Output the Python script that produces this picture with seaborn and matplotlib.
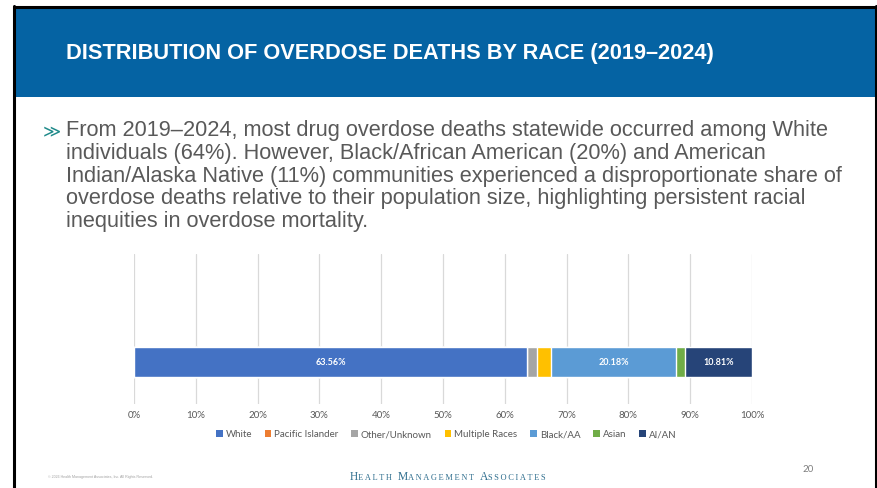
import matplotlib
matplotlib.use("Agg")
import matplotlib.pyplot as plt
import matplotlib.patches as mpatches
from matplotlib.lines import Line2D
import seaborn as sns
import numpy as np
import pandas as pd

# chart values
races = ["White", "Pacific Islander", "Other/Unknown", "Multiple Races",
         "Black/AA", "Asian", "AI/AN"]
shares = [63.56, 0.10, 1.60, 2.25, 20.18, 1.50, 10.81]
colors = ["#4472C4", "#ED7D31", "#A5A5A5", "#FFC000",
          "#5B9BD5", "#70AD47", "#264478"]
labelled = ["White", "Black/AA", "AI/AN"]
tick_values = list(range(0, 101, 10))
tick_labels = [f"{v}%" for v in tick_values]

title = "DISTRIBUTION OF OVERDOSE DEATHS BY RACE (2019\u20132024)"
body_lines = [
    "From 2019\u20132024, most drug overdose deaths statewide occurred among White",
    "individuals (64%). However, Black/African American (20%) and American",
    "Indian/Alaska Native (11%) communities experienced a disproportionate share of",
    "overdose deaths relative to their population size, highlighting persistent racial",
    "inequities in overdose mortality.",
]
footer_words = ["Health", "Management", "Associates"]

sns.set_theme(style="white")
plt.rcParams['font.family'] = ['Liberation Sans', 'DejaVu Sans']

W, H = 877, 489
fig = plt.figure(figsize=(W / 100, H / 100), dpi=100)
fig.patch.set_facecolor("white")


def fx(px):
    return px / W


def fy(py):
    return 1 - py / H


# slide header band and border
fig.add_artist(mpatches.Rectangle((fx(15), fy(98)), fx(875) - fx(15), fy(8) - fy(98),
                                  transform=fig.transFigure, facecolor="#0563A3",
                                  edgecolor="none", zorder=0))
fig.add_artist(Line2D([fx(14), fx(14)], [fy(7), 0], transform=fig.transFigure,
                      color="black", lw=2.2))
fig.add_artist(Line2D([fx(14), fx(876)], [fy(7.5), fy(7.5)], transform=fig.transFigure,
                      color="black", lw=2.2))
fig.add_artist(Line2D([fx(876), fx(876)], [fy(7), 0], transform=fig.transFigure,
                      color="black", lw=2.2))

fig.text(fx(66), fy(53), title, color="white", fontsize=15.7, fontweight="bold",
         va="center", ha="left")

# bullet text
fig.text(fx(43), fy(131), "\u226B", color="#1F8A8A", fontsize=12.5, va="center",
         ha="left", family=["DejaVu Sans"])
for i, line in enumerate(body_lines):
    fig.text(fx(66), fy(131 + i * 22.6), line, color="#595959", fontsize=15.65,
             va="center", ha="left")

# stacked bar chart
ax = fig.add_axes([fx(134), fy(405), fx(752) - fx(134), fy(255) - fy(405)])
df = pd.DataFrame({"race": races, "share": shares, "color": colors})
df["cum"] = df["share"].cumsum()
df["start"] = df["cum"] - df["share"]

# draw cumulative totals from the end backward so each segment shows
for _, row in df.iloc[::-1].iterrows():
    sns.barplot(data=pd.DataFrame({"cat": [""], "cum": [row["cum"]]}),
                x="cum", y="cat", orient="h", color=row["color"],
                saturation=1, width=0.6, ax=ax, zorder=3)

for _, row in df.iterrows():
    if row["race"] in labelled:
        ax.text(row["start"] + row["share"] / 2, 0, f"{row['share']:.2f}%",
                color="white", fontsize=6.5, fontweight="bold",
                ha="center", va="center", zorder=5, family=["Lato", "DejaVu Sans"])

ax.set_xlim(0, 100)
ax.set_ylim(0.84, -2.16)
ax.set_xticks(tick_values)
ax.set_xticklabels(tick_labels, color="#595959", fontsize=7,
                   family=["Lato", "DejaVu Sans"])
ax.set_yticks([])
ax.set_xlabel("")
ax.set_ylabel("")
ax.grid(axis="x", color="#D9D9D9", lw=0.9, zorder=0)
ax.tick_params(axis="x", length=0, pad=4)
for s in ax.spines.values():
    s.set_visible(False)
ax.set_facecolor("none")

handles = [mpatches.Patch(facecolor=c, edgecolor="none", label=r)
           for r, c in zip(races, colors)]
fig.legend(handles=handles, loc="center", bbox_to_anchor=(fx(446), fy(435)),
           ncol=7, frameon=False, handlelength=0.7, handleheight=0.7,
           handletextpad=0.3, columnspacing=1.3,
           prop={"family": ["Lato", "DejaVu Sans"], "size": 7}, labelcolor="#595959")

# footer
fig.text(fx(48), fy(477), "\u00a9 2026 Health Management Associates, Inc. All Rights Reserved.",
         color="#A0A0A0", fontsize=2.6, va="center", ha="left")

# small-caps logo text, built letter group by letter group
renderer = fig.canvas.get_renderer()
serif = ["Liberation Serif", "DejaVu Serif"]
logo_color = "#2F6E8E"
word_gap = 6
pieces = []
for w in footer_words:
    pieces.append((w[0], 8.3, 0))
    pieces.append(("\u2009".join(w[1:].upper()), 6.0, word_gap))
widths = []
for txt, size, gap in pieces:
    t = fig.text(0, 0, txt, fontsize=size, family=serif)
    widths.append(t.get_window_extent(renderer).width + gap)
    t.remove()
x = 448 - (sum(widths) - word_gap) / 2
for (txt, size, gap), wd in zip(pieces, widths):
    fig.text(fx(x), fy(480), txt, fontsize=size, family=serif, color=logo_color,
             va="baseline", ha="left")
    x += wd

fig.text(fx(808), fy(470), "20", color="#7F7F7F", fontsize=7, va="center", ha="center",
         family=["Lato", "DejaVu Sans"])

fig.savefig("out.png", dpi=100)
